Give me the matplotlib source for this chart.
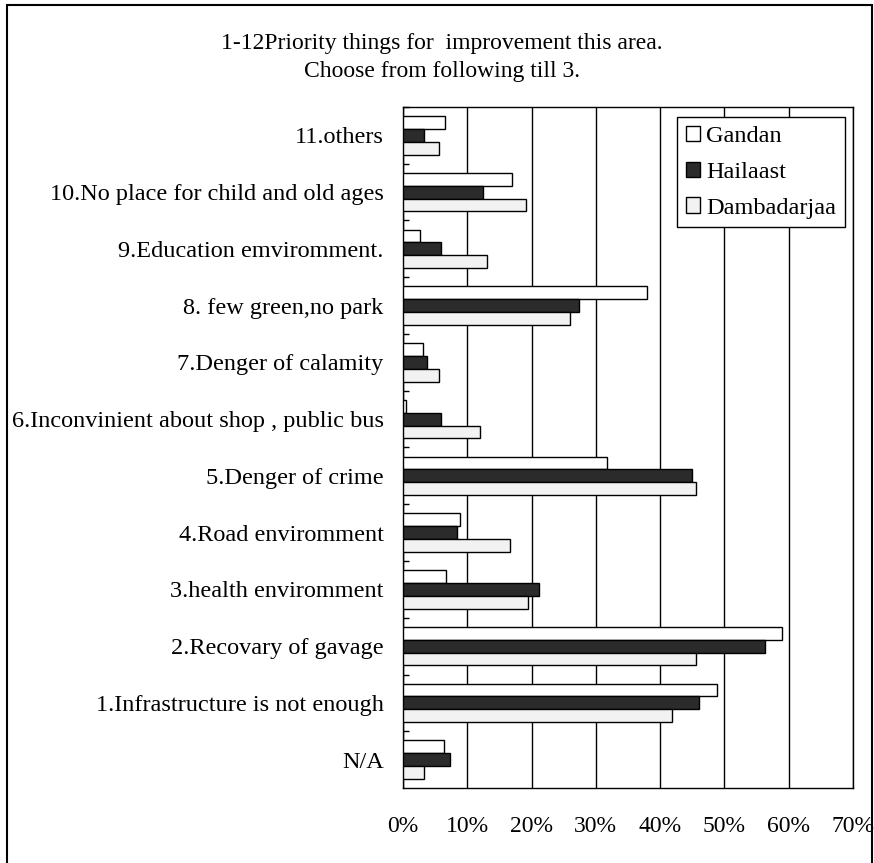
"""Priority things for improvement - grouped horizontal bar chart."""

import matplotlib.pyplot as plt
from matplotlib.patches import Rectangle
from matplotlib.ticker import FixedLocator

# categories listed bottom to top
categories = [
    "N/A",
    "1.Infrastructure is not enough",
    "2.Recovary of gavage",
    "3.health enviromment",
    "4.Road enviromment",
    "5.Denger of crime",
    "6.Inconvinient about shop , public bus",
    "7.Denger of calamity",
    "8. few green,no park",
    "9.Education emviromment.",
    "10.No place for child and old ages",
    "11.others",
]
gandan = [6.3, 48.9, 59.0, 6.7, 8.9, 31.7, 0.5, 3.1, 37.9, 2.7, 17.0, 6.5]
hailaast = [7.3, 46.0, 56.3, 21.2, 8.4, 44.9, 5.9, 3.8, 27.4, 5.9, 12.5, 3.3]
dambadarjaa = [3.2, 41.8, 45.5, 19.4, 16.6, 45.6, 12.0, 5.6, 25.9, 13.0, 19.1, 5.6]
series_names = ["Gandan", "Hailaast", "Dambadarjaa"]
xticks = [0, 10, 20, 30, 40, 50, 60, 70]

plt.rcParams["font.family"] = ["Liberation Serif", "DejaVu Serif"]
FS = 17.5

fig = plt.figure(figsize=(8.74, 8.63), dpi=100)
ax = fig.add_axes([403 / 874, 1 - 788 / 863, 450 / 874, 681 / 863])

h = 0.225
ys = range(len(categories))
ax.barh([y + h for y in ys], gandan, height=h, color="white",
        edgecolor="black", linewidth=1, label=series_names[0], zorder=3)
ax.barh(list(ys), hailaast, height=h, color="#2b2b2b",
        edgecolor="black", linewidth=1, label=series_names[1], zorder=3)
ax.barh([y - h for y in ys], dambadarjaa, height=h, color="#f2f2f2",
        edgecolor="black", linewidth=1, label=series_names[2], zorder=3)

ax.set_xlim(0, 70)
ax.set_ylim(-0.5, len(categories) - 0.5)
ax.set_xticks(xticks)
ax.set_xticklabels([f"{t}%" for t in xticks], fontsize=FS - 0.5)
ax.set_yticks(list(ys))
ax.set_yticklabels(categories, fontsize=FS)
ax.tick_params(axis="x", length=0, pad=20)
ax.tick_params(axis="y", which="major", length=0, pad=14)
ax.yaxis.set_minor_locator(FixedLocator([y + 0.5 for y in ys]))
ax.tick_params(axis="y", which="minor", direction="in", length=4.5,
               width=1, color="black")
ax.grid(axis="x", color="black", linewidth=1, zorder=0)
for sp in ax.spines.values():
    sp.set_color("black")
    sp.set_linewidth(1)

leg = ax.legend(loc="upper right", bbox_to_anchor=(0.982, 0.985),
                borderaxespad=0, fontsize=FS, fancybox=False,
                edgecolor="black", framealpha=1, handlelength=0.6,
                handleheight=0.6, handletextpad=0.25, labelspacing=0.6,
                borderpad=0.35)
leg.get_frame().set_linewidth(1)

fig.text(442 / 874, 1 - 43 / 863,
         "1-12Priority things for  improvement this area.",
         ha="center", va="center", fontsize=FS - 0.5)
fig.text(442 / 874, 1 - 72 / 863, "Choose from following till 3.",
         ha="center", va="center", fontsize=FS - 0.5)

# outer chart border
fig.patches.append(Rectangle((7 / 874, -0.01), 865 / 874, 1 - 5 / 863 + 0.01,
                             transform=fig.transFigure, fill=False,
                             edgecolor="black", linewidth=1.5))

fig.savefig("out.png", dpi=100)
